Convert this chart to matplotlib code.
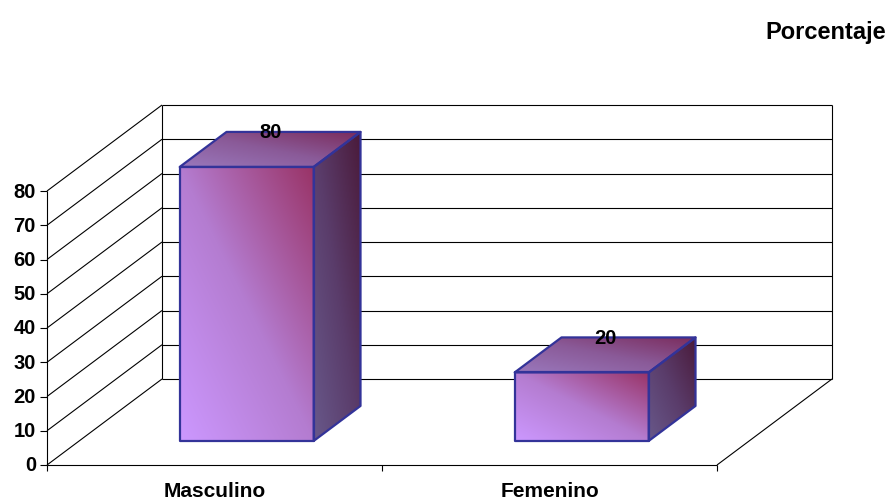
import numpy as np
import matplotlib
matplotlib.use("Agg")
import matplotlib.pyplot as plt
from matplotlib.patches import Polygon
from matplotlib.colors import LinearSegmentedColormap

# ---- data ----
categories = ["Masculino", "Femenino"]
values = [80, 20]
value_ticks = [0, 10, 20, 30, 40, 50, 60, 70, 80]
title = "Porcentaje"

plt.rcParams["font.family"] = ["Liberation Sans", "DejaVu Sans"]
plt.rcParams["font.weight"] = "bold"

W, H = 890, 502
fig = plt.figure(figsize=(W / 100, H / 100), dpi=100)
ax = fig.add_axes([0, 0, 1, 1])
ax.set_axis_off()

# ---- layout of the 3-D box (in pixels) ----
FRONT_LEFT_PX = 47        # left end of the front floor edge
FRONT_RIGHT_PX = 717      # right end of the front floor edge
FLOOR_PX = 466            # front floor line, from top of figure
AXIS_HEIGHT_PX = 274      # front height of the value axis
DEPTH_DX_PX, DEPTH_DY_PX = 115, 86

vmax = value_ticks[-1]
px_x = (FRONT_RIGHT_PX - FRONT_LEFT_PX) / len(categories)
px_v = AXIS_HEIGHT_PX / vmax
xlim = (-FRONT_LEFT_PX / px_x, (W - FRONT_LEFT_PX) / px_x)
ylim = (-(H - FLOOR_PX) / px_v, FLOOR_PX / px_v)
DX = DEPTH_DX_PX / px_x
DY = DEPTH_DY_PX / px_v
ncat = len(categories)


def proj(x, v, d):
    """Oblique projection of (category x, value v, depth d in 0..1)."""
    return (x + d * DX, v + d * DY)


LINE = dict(color="black", lw=0.8, solid_capstyle="butt", zorder=1)


def seg(p, q, **kw):
    style = dict(LINE)
    style.update(kw)
    ax.plot([p[0], q[0]], [p[1], q[1]], **style)


# back wall, left wall and floor
for v in value_ticks:
    seg(proj(0, v, 1), proj(ncat, v, 1))      # back wall gridline
    seg(proj(0, v, 0), proj(0, v, 1))         # left wall gridline
seg(proj(0, 0, 1), proj(0, vmax, 1))
seg(proj(ncat, 0, 1), proj(ncat, vmax, 1))
seg(proj(0, 0, 0), proj(ncat, 0, 0))          # front floor edge
seg(proj(ncat, 0, 0), proj(ncat, 0, 1))       # right floor edge
seg(proj(0, 0, 0), proj(0, vmax, 0))          # value axis

# value-axis ticks and labels
tick_len = 7 / px_x
for v in value_ticks:
    seg((-tick_len, v), (0, v))
    ax.annotate(str(v), xy=(0, v), xytext=(-11, 0), textcoords="offset pixels",
                ha="right", va="center", fontsize=14.5, fontweight="bold")

# category ticks and labels
for i in range(ncat + 1):
    seg((i, 0), (i, -6 / px_v))
for i, name in enumerate(categories):
    ax.annotate(name, xy=(i + 0.5, 0), xytext=(0, -31), textcoords="offset pixels",
                ha="center", va="baseline", fontsize=15, fontweight="bold")

# ---- gradient-filled 3-D bars ----
EDGE = "#333399"
FRONT_COLS = ["#CC98FF", "#B47CD0", "#993366"]
TOP_COLS = ["#9A78BC", "#8A5A98", "#7A2A5A"]
SIDE_COLS = ["#68588A", "#5A3C6A", "#4A1A3A"]


def gradient_face(pts, cols, z):
    pts = np.asarray(pts)
    clip = Polygon(pts, closed=True, facecolor="none", edgecolor="none", zorder=z)
    ax.add_patch(clip)
    (x0, y0), (x1, y1) = pts.min(0), pts.max(0)
    n = 256
    u = np.linspace(0, 1, n)[None, :]
    w = np.linspace(0, 1, n)[:, None]
    t = (u + w) / 2
    cmap = LinearSegmentedColormap.from_list("face", cols)
    im = ax.imshow(t, cmap=cmap, vmin=0, vmax=1, extent=(x0, x1, y0, y1),
                   origin="lower", aspect="auto", interpolation="bilinear", zorder=z)
    im.set_clip_path(clip)


BAR_W = 0.4
D0, D1 = 0.28, 0.687
for i, val in enumerate(values):
    xa = i + 0.5 - BAR_W / 2
    xb = i + 0.5 + BAR_W / 2
    front = [proj(xa, 0, D0), proj(xb, 0, D0), proj(xb, val, D0), proj(xa, val, D0)]
    top = [proj(xa, val, D0), proj(xb, val, D0), proj(xb, val, D1), proj(xa, val, D1)]
    side = [proj(xb, 0, D0), proj(xb, 0, D1), proj(xb, val, D1), proj(xb, val, D0)]
    z = 2 + i
    gradient_face(front, FRONT_COLS, z)
    gradient_face(top, TOP_COLS, z)
    gradient_face(side, SIDE_COLS, z)
    for face in (front, top, side):
        ax.add_patch(Polygon(face, closed=True, fill=False, edgecolor=EDGE,
                             lw=1.6, joinstyle="round", zorder=z + 0.5))
    lx = proj(i + 0.5, val, (D0 + D1) / 2)[0]
    ly = proj(i + 0.5, val, D1)[1]
    ax.text(lx, ly, str(val), ha="center", va="center", fontsize=14.5,
            fontweight="bold", zorder=10)

ax.set_xlim(*xlim)
ax.set_ylim(*ylim)

fig.text(886 / W, 1 - 33 / H, title, ha="right", va="center",
         fontsize=17, fontweight="bold")

fig.savefig("out.png", dpi=100)
